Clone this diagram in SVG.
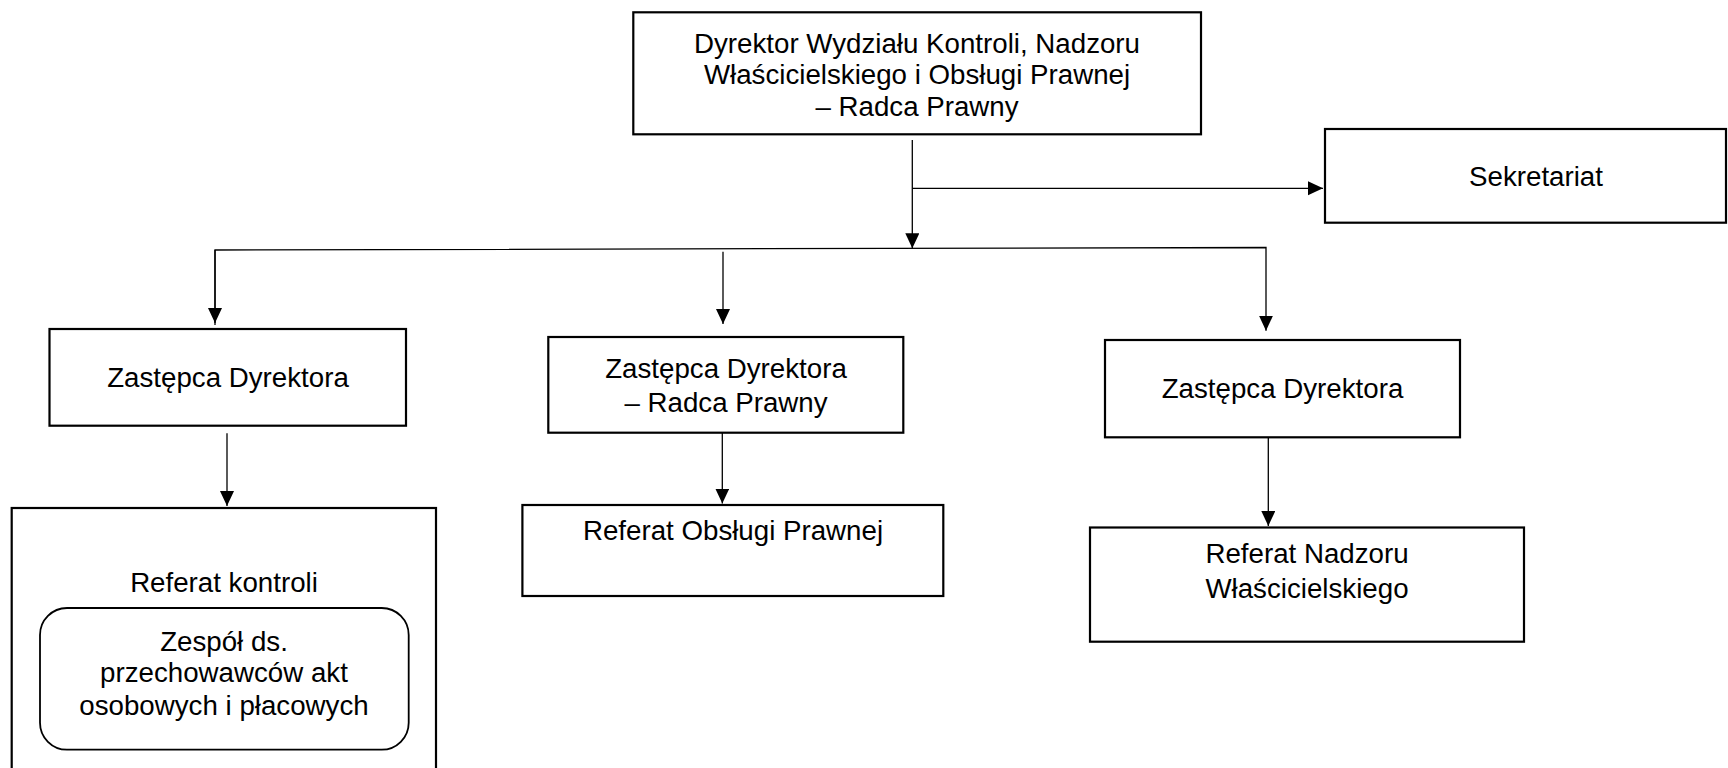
<svg xmlns="http://www.w3.org/2000/svg" width="1728" height="768" viewBox="0 0 1728 768">
<defs>
<style>
.box{fill:#fff;stroke:#000;stroke-width:2.2}
.line{fill:none;stroke:#000;stroke-width:1.3}
text{font-family:"Liberation Sans",Arial,sans-serif;font-size:27.7px;fill:#000;text-anchor:middle}
</style>
<marker id="arr" markerUnits="userSpaceOnUse" markerWidth="15" markerHeight="15" refX="15" refY="7" orient="auto">
<path d="M0,0 L15,7 L0,14 z" fill="#000"/>
</marker>
</defs>
<rect width="1728" height="768" fill="#fff"/>
<g id="connectors">
<line class="line" x1="912.3" y1="140" x2="912.3" y2="248.3" marker-end="url(#arr)"/>
<line class="line" x1="912.3" y1="188.3" x2="1323" y2="188.3" marker-end="url(#arr)"/>
<polyline class="line" points="215,325 215,250 1266,247.5 1266,330.7" marker-end="url(#arr)"/>
<line class="line" x1="215" y1="250" x2="215" y2="323" marker-end="url(#arr)"/>
<line class="line" x1="723" y1="251.7" x2="723" y2="324" marker-end="url(#arr)"/>
<line class="line" x1="227" y1="433.3" x2="227" y2="506" marker-end="url(#arr)"/>
<line class="line" x1="722.3" y1="432.7" x2="722.3" y2="503.5" marker-end="url(#arr)"/>
<line class="line" x1="1268.3" y1="437.3" x2="1268.3" y2="526" marker-end="url(#arr)"/>
</g>
<g id="dyrektor">
<rect class="box" x="633.3" y="12.3" width="567.7" height="122"/>
<text x="917" y="52.5">Dyrektor Wydziału Kontroli, Nadzoru</text>
<text x="917" y="84">Właścicielskiego i Obsługi Prawnej</text>
<text x="917" y="116">– Radca Prawny</text>
</g>
<g id="sekretariat">
<rect class="box" x="1325" y="129" width="401" height="93.7"/>
<text x="1536" y="185.7">Sekretariat</text>
</g>
<g id="zastepca-lewy">
<rect class="box" x="49.5" y="329" width="356.5" height="96.7"/>
<text x="228" y="386.7">Zastępca Dyrektora</text>
</g>
<g id="zastepca-srodek">
<rect class="box" x="548.3" y="337" width="355" height="95.7"/>
<text x="726" y="378">Zastępca Dyrektora</text>
<text x="726" y="411.7">– Radca Prawny</text>
</g>
<g id="zastepca-prawy">
<rect class="box" x="1105" y="340" width="355" height="97.3"/>
<text x="1282.5" y="398.3">Zastępca Dyrektora</text>
</g>
<g id="referat-kontroli">
<rect class="box" x="11.7" y="508" width="424.3" height="280"/>
<text x="224" y="592">Referat kontroli</text>
</g>
<g id="zespol">
<rect class="box" x="40" y="608" width="368.7" height="141.7" rx="27" ry="27" style="stroke-width:1.8"/>
<text x="224" y="650.5">Zespół ds.</text>
<text x="224" y="682">przechowawców akt</text>
<text x="224" y="714.5">osobowych i płacowych</text>
</g>
<g id="referat-obslugi">
<rect class="box" x="522.4" y="505" width="420.9" height="91"/>
<text x="733" y="540">Referat Obsługi Prawnej</text>
</g>
<g id="referat-nadzoru">
<rect class="box" x="1090" y="527.5" width="434" height="114.2"/>
<text x="1307" y="563">Referat Nadzoru</text>
<text x="1307" y="598">Właścicielskiego</text>
</g>
</svg>
